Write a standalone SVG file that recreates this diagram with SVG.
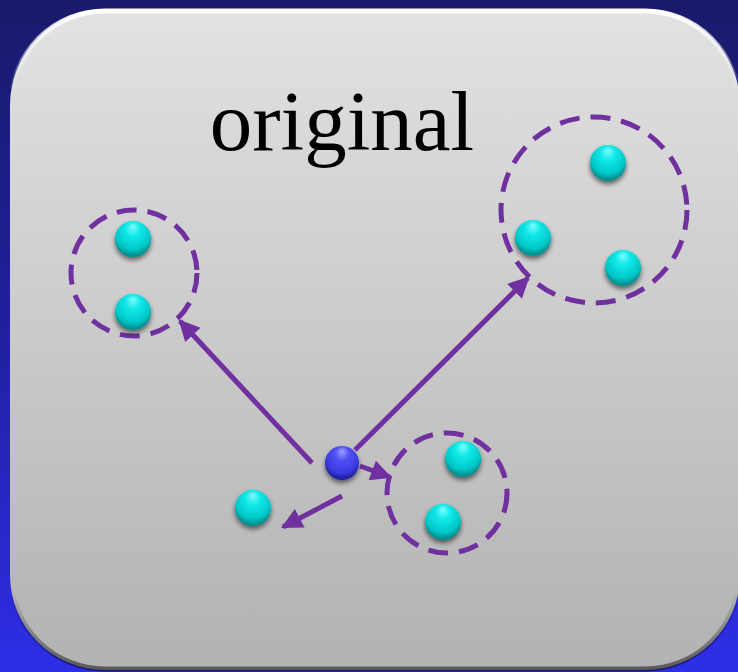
<svg xmlns="http://www.w3.org/2000/svg" width="738" height="672" viewBox="0 0 738 672">
<defs>
<linearGradient id="bg" x1="0" y1="0" x2="0" y2="1">
<stop offset="0" stop-color="#1a1a6a"/>
<stop offset="0.5" stop-color="#2020a0"/>
<stop offset="1" stop-color="#2e2ee8"/>
</linearGradient>
<linearGradient id="panel" x1="0" y1="0" x2="0" y2="1">
<stop offset="0" stop-color="#e2e2e2"/>
<stop offset="1" stop-color="#b2b2b2"/>
</linearGradient>
<linearGradient id="rim" x1="0" y1="0" x2="0" y2="1">
<stop offset="0" stop-color="#ffffff"/>
<stop offset="0.12" stop-color="#ffffff" stop-opacity="0"/>
<stop offset="0.88" stop-color="#000000" stop-opacity="0"/>
<stop offset="1" stop-color="#000000" stop-opacity="0.5"/>
</linearGradient>
<radialGradient id="cyan" cx="0.5" cy="0.35" r="0.6" fx="0.5" fy="0.15">
<stop offset="0" stop-color="#7ffcfc"/>
<stop offset="0.35" stop-color="#10e8e8"/>
<stop offset="0.8" stop-color="#00c8c8"/>
<stop offset="1" stop-color="#009090"/>
</radialGradient>
<radialGradient id="blue" cx="0.5" cy="0.35" r="0.6" fx="0.5" fy="0.15">
<stop offset="0" stop-color="#a0a0ff"/>
<stop offset="0.35" stop-color="#5050f5"/>
<stop offset="0.8" stop-color="#3a3ae0"/>
<stop offset="1" stop-color="#2020a0"/>
</radialGradient>
<filter id="sh" x="-50%" y="-50%" width="200%" height="200%">
<feGaussianBlur in="SourceAlpha" stdDeviation="2.5"/>
<feOffset dy="3" result="b"/>
<feComponentTransfer><feFuncA type="linear" slope="0.55"/></feComponentTransfer>
<feMerge><feMergeNode/><feMergeNode in="SourceGraphic"/></feMerge>
</filter>
<marker id="ah" viewBox="0 0 10 10" refX="9" refY="5" markerWidth="4.6" markerHeight="4.2" orient="auto" markerUnits="strokeWidth">
<path d="M0,0 L10,5 L0,10 z" fill="#7030a0"/>
</marker>
</defs>
<style>
.grp{fill:none;stroke:#7030a0;stroke-width:5;stroke-dasharray:20 11}
.ball{fill:url(#cyan);filter:url(#sh)}
.con{fill:none;stroke:#7030a0;stroke-width:5;marker-end:url(#ah)}
</style>
<rect x="0" y="0" width="738" height="672" fill="url(#bg)"/>
<g id="panel">
<rect x="10" y="10" width="730" height="660" rx="95" ry="95" fill="url(#panel)"/>
<rect x="11" y="11" width="728" height="658" rx="94" ry="94" fill="none" stroke="url(#rim)" stroke-width="5"/>
</g>
<text x="342" y="150" font-family="Liberation Serif, serif" font-size="85" text-anchor="middle" fill="#000">original</text>
<g id="connectors">
<line class="con" x1="312" y1="463" x2="180" y2="321"/>
<line class="con" x1="355" y1="450" x2="528" y2="278"/>
<line class="con" x1="360" y1="466" x2="390" y2="477"/>
<line class="con" x1="342" y1="496" x2="283" y2="527"/>
</g>
<g id="cluster-left">
<circle class="grp" cx="134" cy="273" r="63"/>
<circle class="ball" cx="133" cy="239" r="18"/>
<circle class="ball" cx="133" cy="312" r="18"/>
</g>
<g id="cluster-top-right">
<circle class="grp" cx="594" cy="210" r="93"/>
<circle class="ball" cx="608" cy="163" r="18"/>
<circle class="ball" cx="533" cy="238" r="18"/>
<circle class="ball" cx="623" cy="268" r="18"/>
</g>
<g id="cluster-bottom">
<circle class="grp" cx="447" cy="493" r="60"/>
<circle class="ball" cx="463" cy="459" r="18"/>
<circle class="ball" cx="443" cy="522" r="18"/>
</g>
<g id="lone">
<circle class="ball" cx="253" cy="508" r="18"/>
</g>
<g id="query">
<circle cx="342" cy="463" r="17" fill="url(#blue)" filter="url(#sh)"/>
</g>
</svg>
